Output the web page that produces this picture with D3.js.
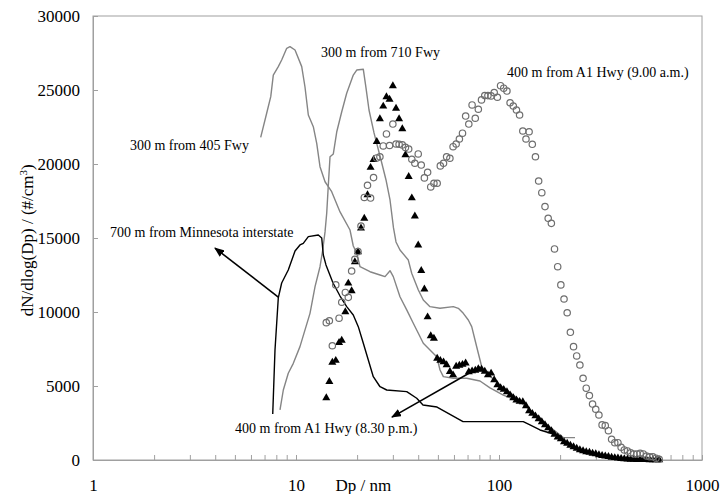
<!DOCTYPE html>
<html>
<head>
<meta charset="utf-8">
<script src="https://cdn.jsdelivr.net/npm/d3@7"></script>
<style>
  body { margin: 0; background: #fff; }
  svg { display: block; font-family: 'Liberation Serif', 'Times New Roman', serif; }
</style>
</head>
<body>
<div id="chart"></div>
<script>
// SMPS size channels (nm), 64 per decade
const dpChannels = [
    14.1, 14.6, 15.1, 15.7, 16.3, 16.8, 17.5, 18.1, 18.8, 19.5,
    20.2, 20.9, 21.7, 22.5, 23.3, 24.1, 25.0, 25.9, 26.9, 27.9,
    28.9, 30.0, 31.1, 32.2, 33.4, 34.6, 35.9, 37.2, 38.5, 40.0,
    41.4, 42.9, 44.5, 46.1, 47.8, 49.6, 51.4, 53.3, 55.2, 57.3,
    59.4, 61.5, 63.8, 66.1, 68.5, 71.0, 73.7, 76.4, 79.1, 82.0,
    85.1, 88.2, 91.4, 94.7, 98.2, 101.8, 105.5, 109.4, 113.4, 117.6,
    121.9, 126.3, 131.0, 135.8, 140.7, 145.9, 151.2, 156.8, 162.5, 168.5,
    174.7, 181.1, 187.7, 194.6, 201.7, 209.1, 216.7, 224.7, 232.9, 241.4,
    250.3, 259.5, 269.0, 278.8, 289.0, 299.6, 310.6, 322.0, 333.8, 346.0,
    358.7, 371.8, 385.4, 399.5, 414.2, 429.4, 445.1, 461.4, 478.3, 495.8,
    514.0, 532.8, 552.3, 572.5, 593.5, 615.3
];

// 400 m from A1 Hwy (9.00 a.m.) - open circles
const hwyMorning = [
    9280, 9410, 7720, 11830, 9580, 10660, 11320, 10990, 12770, 13560,
    14080, 15810, 17740, 18560, 17700, 19080, 20410, 20490, 21220, 22030,
    21250, 22700, 21350, 21330, 21290, 21120, 21010, 20320, 20050, 20680,
    19930, 19060, 19440, 18450, 18700, 18700, 19870, 20050, 20490, 20390,
    21170, 21350, 21690, 22080, 23240, 22700, 23990, 23090, 23700, 24330,
    24620, 24620, 24600, 24820, 24510, 25290, 25120, 24930, 24140, 23920,
    23650, 23310, 22230, 21690, 22180, 21330, 20490, 18850, 18060, 17120,
    16330, 15990, 14260, 13060, 11830, 10880, 9950, 8630, 7660, 7030,
    6420, 5520, 4850, 4350, 3780, 3430, 3040, 2370, 2320, 1980,
    1400, 1170, 1170, 860, 680, 610, 490, 410, 410, 450,
    410, 270, 220, 220, 120, 50
];

// 400 m from A1 Hwy (8.30 p.m.) - filled triangles
const hwyEvening = [
    4190, 5290, 6600, 6720, 7930, 8080, 10000, 11940, 11420, 13380,
    14060, 15660, 16320, 17910, 19760, 20290, 21510, 23040, 23900, 24530,
    24360, 25270, 23760, 23040, 22370, 20610, 19140, 17700, 16470, 14510,
    12790, 11550, 9660, 8380, 8220, 6860, 6720, 6620, 6420, 5970,
    5740, 6320, 6390, 6450, 6550, 5950, 6010, 6050, 6150, 6120,
    5980, 5740, 5860, 5410, 5070, 4870, 4760, 4600, 4390, 4190,
    4050, 3950, 3920, 3650, 3310, 3140, 2970, 2770, 2570, 2370,
    2160, 1960, 1720, 1550, 1420, 1220, 1120, 980, 880, 780,
    680, 610, 550, 510, 450, 410, 350, 300, 260, 220,
    180, 150, 120, 95, 70, 55, 40, 35, 27, 20,
    14, 14, 7, 7, 0, 0
];

// 300 m from 405 Fwy
const fwy405Dp = [6.70, 7.17, 7.51, 7.73, 8.18, 8.50, 9.00, 9.34, 9.89, 10.67,
    11.07, 11.50, 12.17, 12.65, 13.13, 13.90, 14.99, 16.48, 18.45, 19.15,
    19.91, 20.67, 23.15, 25.94, 27.45, 29.05, 30.15, 32.53, 35.11, 37.83,
    40.05, 42.37, 45.72, 49.34, 51.22, 53.18, 59.56, 69.33, 80.60, 90.29,
    105.0, 126.9, 159.2, 178.3, 207.4, 236.8];
const fwy405N = [21800, 23430, 24550, 26010, 26580, 27030, 27820, 27930, 27700, 26580,
    25220, 23310, 22520, 21400, 19820, 18800, 18130, 16760, 15540, 14460,
    13990, 13060, 12720, 12500, 12390, 12790, 12390, 11030, 10140, 9240,
    8560, 7890, 7430, 6980, 6080, 5630, 5520, 5520, 5340, 4870,
    4390, 3920, 2840, 2230, 1510, 1510];

// 300 m from 710 Fwy
const fwy710Dp = [8.34, 8.66, 9.16, 9.70, 10.46, 11.72, 12.41, 13.13, 13.54, 13.90,
    14.17, 14.43, 14.71, 15.27, 15.87, 16.80, 17.77, 19.15, 19.91, 21.46,
    22.12, 22.89, 24.23, 26.23, 27.76, 29.05, 30.22, 31.09, 32.53, 35.75,
    37.15, 40.05, 42.37, 45.72, 51.22, 59.56, 63.03, 66.71, 70.60, 73.38,
    76.18, 79.09, 82.20, 87.00, 101.1, 126.9, 159.2, 199.8];
const fwy710N = [3380, 4730, 5860, 6530, 7660, 9910, 11710, 13060, 14190, 15410,
    16690, 18580, 20490, 20680, 22160, 23530, 24780, 26010, 26350, 26400,
    25140, 23650, 22100, 20270, 18920, 17570, 15680, 14730, 14190, 13510,
    12620, 11490, 10810, 10360, 10250, 10360, 10250, 9910, 9460, 9010,
    8110, 7210, 6300, 5860, 5070, 4050, 2700, 1550];

// 700 m from Minnesota interstate
const minnDp = [7.68, 7.88, 8.18, 8.50, 9.16, 9.89, 10.46, 10.86, 11.50, 12.88,
    13.39, 13.63, 14.05, 15.22, 16.48, 17.77, 19.15, 20.27, 21.46, 22.71,
    24.03, 25.94, 27.98, 35.11, 39.32, 42.23, 49.51, 66.48, 131.7, 142.1,
    159.2, 199.8];
const minnN = [3110, 7430, 10950, 11960, 12840, 14120, 14530, 14640, 15090, 15200,
    15000, 13850, 13180, 11960, 11080, 10360, 9800, 9010, 7890, 6760,
    5630, 4950, 4730, 4620, 4170, 3720, 3580, 2590, 2590, 2370,
    2030, 1620];

// Annotations: text, anchor position (Dp, dN)
const labelTexts = ['300 m from 405 Fwy', '300 m from 710 Fwy', '400 m from A1 Hwy (9.00 a.m.)',
    '700 m from Minnesota interstate', '400 m from A1 Hwy (8.30 p.m.)'];
const labelDp = [1.52, 13.28, 109.5, 1.213, 5.01];
const labelN = [20950, 27230, 25880, 15070, 1820];

// Arrows: from (Dp, dN) to (Dp, dN)
const arrowFromDp = [8.18, 80.6];
const arrowFromN = [11010, 6280];
const arrowToDp = [3.99, 29.7];
const arrowToN = [14320, 2900];

// Axis ticks
const xLabelTicks = [1, 10, 100, 1000];
const xMinorTicks = [1, 2, 3, 4, 5, 6, 7, 8, 9, 10, 20, 30, 40, 50, 60, 70, 80, 90,
    100, 200, 300, 400, 500, 600, 700, 800, 900, 1000];
const yTicks = [0, 5000, 10000, 15000, 20000, 25000, 30000];

// Colors
const axisColor = '#a0a0a0';
const grayLine = '#858585';
const blackColor = '#000';
const circleColor = '#6e6e6e';

const margin = { top: 16, right: 18, bottom: 34, left: 93 };
const width = 720 - margin.left - margin.right;
const height = 494 - margin.top - margin.bottom;

const svg = d3.select('#chart')
    .append('svg')
    .attr('width', 720)
    .attr('height', 494);

const defs = svg.append('defs');
defs.append('marker')
    .attr('id', 'arrowhead')
    .attr('markerUnits', 'userSpaceOnUse')
    .attr('markerWidth', 10)
    .attr('markerHeight', 8)
    .attr('refX', 9)
    .attr('refY', 4)
    .attr('orient', 'auto')
    .append('path')
    .attr('d', 'M0,0 L10,4 L0,8 Z')
    .attr('fill', blackColor);

const g = svg.append('g')
    .attr('transform', `translate(${margin.left},${margin.top})`);

const x = d3.scaleLog()
    .domain([1, 1000])
    .range([0, width]);

const y = d3.scaleLinear()
    .domain([0, 30000])
    .range([height, 0]);

// Frame
g.append('rect')
    .attr('width', width)
    .attr('height', height)
    .attr('fill', 'none')
    .attr('stroke', axisColor)
    .attr('stroke-width', 1);

// X axis
const xAxis = g.append('g')
    .attr('transform', `translate(0,${height})`)
    .call(d3.axisBottom(x)
        .tickValues(xMinorTicks)
        .tickSize(-5)
        .tickSizeOuter(0)
        .tickPadding(19)
        .tickFormat(d => xLabelTicks.includes(d) ? d : ''));

// Y axis
const yAxis = g.append('g')
    .call(d3.axisLeft(y)
        .tickValues(yTicks)
        .tickSize(-5)
        .tickSizeOuter(0)
        .tickPadding(13)
        .tickFormat(d3.format('d')));

[xAxis, yAxis].forEach(a => {
    a.select('.domain').attr('stroke', axisColor);
    a.selectAll('.tick line').attr('stroke', axisColor);
    a.selectAll('.tick text')
        .attr('fill', blackColor)
        .style('font-family', "'Liberation Serif', serif")
        .style('font-size', '17px');
});

// Axis titles
g.append('text')
    .attr('x', x(Math.sqrt(10 * 46)))
    .attr('y', height + 31)
    .attr('text-anchor', 'middle')
    .style('font-size', '17px')
    .text('Dp / nm');

const yTitle = g.append('text')
    .attr('transform', `translate(${33 - margin.left},${y(14850)}) rotate(-90)`)
    .attr('text-anchor', 'middle')
    .style('font-size', '17px');
yTitle.append('tspan').text('dN/dlog(Dp) / (#/cm');
yTitle.append('tspan').attr('baseline-shift', 'super').style('font-size', '11px').text('3');
yTitle.append('tspan').text(')');

// Lines
const lineGen = d3.line()
    .x(d => x(d[0]))
    .y(d => y(d[1]));

const lineSeries = [
    { dp: fwy405Dp, n: fwy405N, color: grayLine, w: 1.4 },
    { dp: fwy710Dp, n: fwy710N, color: grayLine, w: 1.4 },
    { dp: minnDp, n: minnN, color: blackColor, w: 1.4 }
];

lineSeries.forEach(s => {
    g.append('path')
        .attr('d', lineGen(d3.zip(s.dp, s.n)))
        .attr('fill', 'none')
        .attr('stroke', s.color)
        .attr('stroke-width', s.w)
        .attr('stroke-linejoin', 'round');
});

// Triangles (8.30 p.m.)
g.selectAll('.tri')
    .data(d3.zip(dpChannels, hwyEvening))
    .enter()
    .append('path')
    .attr('class', 'tri')
    .attr('d', d3.symbol(d3.symbolTriangle, 28))
    .attr('transform', d => `translate(${x(d[0])},${y(d[1])})`)
    .attr('fill', blackColor);

// Circles (9.00 a.m.)
g.selectAll('.circ')
    .data(d3.zip(dpChannels, hwyMorning))
    .enter()
    .append('circle')
    .attr('class', 'circ')
    .attr('r', 3.2)
    .attr('cx', d => x(d[0]))
    .attr('cy', d => y(d[1]))
    .attr('fill', 'none')
    .attr('stroke', circleColor)
    .attr('stroke-width', 1.2);

// Arrows
arrowFromDp.forEach((d, i) => {
    g.append('line')
        .attr('x1', x(d))
        .attr('y1', y(arrowFromN[i]))
        .attr('x2', x(arrowToDp[i]))
        .attr('y2', y(arrowToN[i]))
        .attr('stroke', blackColor)
        .attr('stroke-width', 1.6)
        .attr('marker-end', 'url(#arrowhead)');
});

// Labels
labelTexts.forEach((t, i) => {
    g.append('text')
        .attr('x', x(labelDp[i]))
        .attr('y', y(labelN[i]))
        .style('font-size', '14px')
        .attr('fill', blackColor)
        .text(t);
});
</script>
</body>
</html>
